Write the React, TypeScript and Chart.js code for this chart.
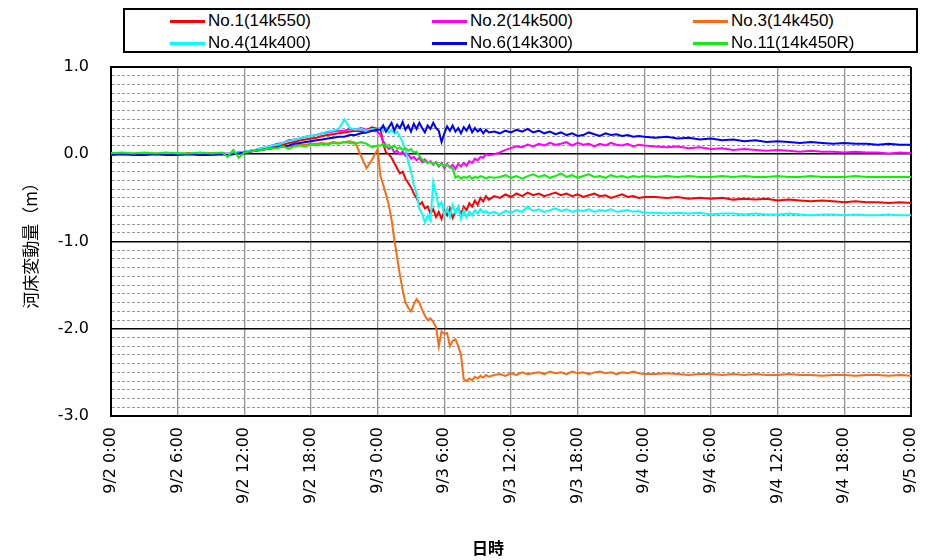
import { useEffect, useRef } from 'react';
import { Chart, registerables } from 'chart.js';

Chart.register(...registerables);

// elapsed hours from 9/2 0:00
const hours = [
  0, 1, 2, 3, 4, 5, 6, 7, 8, 9, 10,
  10.5, 11, 11.5, 12, 12.5, 13, 13.5, 14, 14.5, 15, 15.5, 16, 16.5, 17, 17.5, 18, 18.5, 19, 19.5, 20, 20.5, 21, 21.5, 22, 22.5, 23, 23.5, 24,
  24.25, 24.5, 24.75, 25, 25.25, 25.5, 25.75, 26, 26.25, 26.5, 26.75, 27, 27.25, 27.5, 27.75, 28, 28.25, 28.5, 28.75, 29,
  29.25, 29.5, 29.75, 30, 30.25, 30.5, 30.75, 31, 31.25, 31.5, 31.75, 32, 32.25, 32.5, 32.75, 33, 33.25, 33.5, 33.75, 34,
  34.5, 35, 35.5, 36, 36.5, 37, 37.5, 38, 38.5, 39, 39.5, 40, 40.5, 41, 41.5, 42, 42.5, 43, 43.5, 44, 44.5, 45, 45.5, 46, 46.5, 47, 47.5, 48,
  49, 50, 51, 52, 53, 54, 55, 56, 57, 58, 59, 60, 61, 62, 63, 64, 65, 66, 67, 68, 69, 70, 71, 72,
];

const no1 = [
  0.01, 0.01, 0.0, 0.01, 0.0, 0.01, 0.0, 0.01, 0.0, 0.01, 0.01,
  0.0, 0.01, 0.02, 0.02, 0.03, 0.04, 0.06, 0.07, 0.08, 0.1, 0.11, 0.13, 0.14, 0.16, 0.17, 0.18, 0.19, 0.21, 0.22, 0.23, 0.24, 0.25, 0.26, 0.27, 0.26, 0.28, 0.31, 0.29,
  0.3, 0.12, 0.02, 0.0, -0.04, -0.1, -0.16, -0.22, -0.2, -0.28, -0.33, -0.38, -0.45, -0.5, -0.58, -0.55, -0.62, -0.6, -0.68, -0.63,
  -0.72, -0.66, -0.74, -0.65, -0.7, -0.62, -0.73, -0.66, -0.61, -0.69, -0.6, -0.64, -0.56, -0.6, -0.53, -0.58, -0.5, -0.54, -0.48, -0.52,
  -0.48, -0.5, -0.46, -0.49, -0.45, -0.48, -0.44, -0.47, -0.45, -0.48, -0.46, -0.44, -0.47, -0.45, -0.48, -0.46, -0.49, -0.47, -0.45, -0.48, -0.47, -0.5, -0.48, -0.46, -0.49, -0.48, -0.5, -0.49,
  -0.49, -0.5, -0.49, -0.51, -0.5, -0.51, -0.5, -0.52, -0.51, -0.52, -0.51, -0.53, -0.52, -0.53, -0.54, -0.53, -0.54, -0.55, -0.54, -0.55, -0.55, -0.56, -0.55, -0.56,
];

const no2 = [
  0.01, 0.0, 0.01, 0.01, 0.0, 0.01, 0.0, 0.0, 0.01, 0.0, 0.01,
  0.01, 0.01, 0.02, 0.03, 0.04, 0.05, 0.07, 0.08, 0.1, 0.12, 0.13, 0.16, 0.17, 0.18, 0.2, 0.21, 0.22, 0.24, 0.25, 0.26, 0.27, 0.27, 0.29, 0.28, 0.3, 0.28, 0.27, 0.26,
  0.22, 0.15, 0.1, 0.06, 0.08, 0.02, 0.04, 0.0, 0.03, -0.02, 0.0, -0.05, -0.03, -0.07, -0.04, -0.09, -0.06, -0.1, -0.08, -0.12,
  -0.09, -0.14, -0.1, -0.16, -0.11, -0.15, -0.12, -0.17, -0.11, -0.14, -0.1, -0.13, -0.08, -0.1, -0.05, -0.07, -0.03, -0.04, 0.0, -0.01,
  0.0, 0.02, 0.05, 0.07, 0.09, 0.08, 0.11, 0.09, 0.12, 0.1, 0.13, 0.11, 0.12, 0.14, 0.1, 0.13, 0.11, 0.12, 0.09, 0.12, 0.1, 0.13, 0.11, 0.1, 0.12, 0.09, 0.11, 0.1,
  0.09, 0.08, 0.09, 0.07, 0.08, 0.06, 0.07, 0.05, 0.06, 0.05, 0.04, 0.05, 0.04, 0.03, 0.04, 0.03, 0.03, 0.02, 0.03, 0.02, 0.02, 0.01, 0.02, 0.01,
];

const no3 = [
  0.0, 0.01, 0.0, 0.0, 0.01, 0.0, 0.01, 0.0, 0.0, 0.01, 0.0,
  0.0, 0.01, 0.01, 0.02, 0.03, 0.04, 0.05, 0.06, 0.07, 0.08, 0.09, 0.09, 0.1, 0.11, 0.11, 0.12, 0.12, 0.13, 0.12, 0.14, 0.13, 0.14, 0.15, 0.13, -0.02, -0.16, -0.06, 0.06,
  -0.25, -0.35, -0.46, -0.58, -0.75, -0.98, -1.18, -1.38, -1.56, -1.7, -1.76, -1.8, -1.72, -1.66, -1.7, -1.78, -1.85, -1.9, -1.88, -1.92,
  -1.98, -2.2, -2.03, -2.06, -2.05, -2.2, -2.14, -2.12, -2.2, -2.3, -2.58, -2.6, -2.57, -2.59, -2.55, -2.57, -2.54, -2.56, -2.53, -2.55,
  -2.53, -2.52, -2.54, -2.51, -2.53, -2.5, -2.52, -2.51, -2.5, -2.52, -2.49, -2.51, -2.5, -2.52, -2.49, -2.51, -2.5, -2.52, -2.5, -2.49, -2.51, -2.5, -2.52, -2.5, -2.51, -2.49, -2.51, -2.52,
  -2.52, -2.51, -2.52, -2.53, -2.52, -2.52, -2.53, -2.52, -2.53, -2.52, -2.53, -2.53, -2.52, -2.53, -2.53, -2.54, -2.53, -2.53, -2.54, -2.53, -2.53, -2.54, -2.53, -2.54,
];

const no4 = [
  0.01, 0.0, 0.0, 0.01, 0.0, 0.0, 0.01, 0.0, 0.01, 0.0, 0.0,
  0.01, 0.01, 0.02, 0.03, 0.04, 0.05, 0.07, 0.08, 0.1, 0.11, 0.13, 0.15, 0.17, 0.18, 0.2, 0.21, 0.22, 0.24, 0.26, 0.27, 0.29, 0.4, 0.3, 0.28, 0.29, 0.27, 0.29, 0.28,
  0.3, 0.26, 0.3, 0.25, 0.28, 0.24, 0.26, 0.2, 0.14, 0.05, -0.08, -0.2, -0.35, -0.45, -0.62, -0.68, -0.78, -0.7, -0.76, -0.32,
  -0.45, -0.6, -0.55, -0.7, -0.62, -0.72, -0.58, -0.68, -0.6, -0.74, -0.64, -0.72, -0.66, -0.7, -0.64, -0.68, -0.63, -0.67, -0.65, -0.68,
  -0.66, -0.69, -0.65, -0.67, -0.64, -0.66, -0.6, -0.65, -0.63, -0.66, -0.64, -0.62, -0.65, -0.63, -0.66, -0.64, -0.65, -0.63, -0.66, -0.64, -0.65, -0.63, -0.66, -0.65, -0.64, -0.66, -0.65, -0.67,
  -0.67, -0.68, -0.67, -0.68, -0.67, -0.69, -0.68, -0.68, -0.69, -0.68, -0.69, -0.69, -0.68, -0.69, -0.7, -0.69, -0.69, -0.7, -0.69, -0.7, -0.7, -0.69, -0.7, -0.7,
];

const no6 = [
  -0.01, 0.0, -0.01, -0.01, 0.0, -0.01, -0.01, 0.0, -0.01, -0.01, 0.0,
  -0.01, 0.0, 0.01, 0.02, 0.03, 0.04, 0.05, 0.06, 0.07, 0.08, 0.09, 0.1, 0.12, 0.13, 0.14, 0.15, 0.16, 0.17, 0.18, 0.19, 0.2, 0.2, 0.22, 0.22, 0.24, 0.25, 0.27, 0.28,
  0.28, 0.33, 0.26, 0.31, 0.36, 0.27, 0.34, 0.3, 0.37, 0.28, 0.33, 0.26, 0.35, 0.29, 0.36, 0.3, 0.25, 0.33, 0.29, 0.36,
  0.3, 0.27, 0.14, 0.24, 0.32, 0.27, 0.33, 0.26, 0.3, 0.24, 0.31, 0.27, 0.33, 0.25, 0.3, 0.26, 0.29, 0.24, 0.28, 0.25,
  0.26, 0.24, 0.27, 0.25, 0.28, 0.26, 0.29, 0.25, 0.27, 0.24, 0.26, 0.23, 0.25, 0.22, 0.24, 0.21, 0.22, 0.25, 0.23, 0.21, 0.24, 0.22, 0.23, 0.21, 0.22, 0.2, 0.21, 0.2,
  0.19, 0.2, 0.18, 0.19, 0.17, 0.18, 0.16, 0.17, 0.15, 0.16, 0.14, 0.15, 0.14, 0.13, 0.14, 0.13, 0.12, 0.13, 0.12, 0.12, 0.11, 0.12, 0.11, 0.11,
];

const no11 = [
  0.01, 0.02, 0.01, 0.02, 0.01, 0.02, 0.01, 0.01, 0.02, 0.01, 0.02,
  -0.03, 0.05, -0.04, 0.02, 0.03, 0.04, 0.05, 0.06, 0.07, 0.07, 0.09, 0.06, 0.09, 0.1, 0.09, 0.11, 0.1, 0.12, 0.11, 0.13, 0.12, 0.14, 0.13, 0.12, 0.14, 0.12, 0.08, 0.1,
  0.1, 0.12, 0.08, 0.11, 0.07, 0.1, 0.06, 0.08, 0.05, 0.07, 0.04, 0.06, 0.02, 0.03, -0.02, -0.06, -0.08, -0.1, -0.09, -0.11,
  -0.1, -0.13, -0.11, -0.14, -0.12, -0.15, -0.16, -0.27, -0.25, -0.28, -0.26, -0.27, -0.25, -0.28, -0.26, -0.27, -0.25, -0.26, -0.28, -0.26,
  -0.27, -0.26, -0.24, -0.27, -0.25, -0.28, -0.25, -0.23, -0.26, -0.24, -0.27, -0.25, -0.22, -0.26, -0.24, -0.27, -0.25, -0.23, -0.26, -0.25, -0.27, -0.24, -0.26, -0.25, -0.27, -0.25, -0.26, -0.25,
  -0.26, -0.25, -0.26, -0.25, -0.26, -0.26, -0.25, -0.26, -0.25, -0.26, -0.26, -0.25, -0.26, -0.26, -0.25, -0.26, -0.26, -0.26, -0.25, -0.26, -0.26, -0.26, -0.26, -0.26,
];

const seriesNames = ['No.1(14k550)', 'No.2(14k500)', 'No.3(14k450)', 'No.4(14k400)', 'No.6(14k300)', 'No.11(14k450R)'];
const seriesValues = [no1, no2, no3, no4, no6, no11];
const seriesColors = ['#ff0000', '#ff00ff', '#ff6a10', '#00ffff', '#0000ff', '#10ee10'];

const xTickValues = [0, 6, 12, 18, 24, 30, 36, 42, 48, 54, 60, 66, 72];
const xTickLabels = ['9/2 0:00', '9/2 6:00', '9/2 12:00', '9/2 18:00', '9/3 0:00', '9/3 6:00', '9/3 12:00', '9/3 18:00', '9/4 0:00', '9/4 6:00', '9/4 12:00', '9/4 18:00', '9/5 0:00'];
const yTickValues = [1, 0, -1, -2, -3];
const yTickLabels = ['1.0', '0.0', '-1.0', '-2.0', '-3.0'];

const yTitle = '河床変動量（m）';
const xTitle = '日時';

const isMajorY = (v: number) => yTickValues.some((t) => Math.abs(t - v) < 1e-6);

export default function App() {
  const canvasRef = useRef<HTMLCanvasElement | null>(null);

  useEffect(() => {
    const canvas = canvasRef.current;
    if (!canvas) return;
    const datasets = seriesNames.map((name, si) => ({
      label: name,
      data: hours.map((h, i) => ({ x: h, y: seriesValues[si][i] })),
      borderColor: seriesColors[si],
      backgroundColor: seriesColors[si],
      borderWidth: 2,
      pointRadius: 0,
      tension: 0,
      fill: false,
      order: 6 - si,
    }));

    const chart = new Chart(canvas, {
      type: 'line',
      data: { datasets },
      options: {
        animation: false,
        responsive: false,
        devicePixelRatio: 1,
        layout: { padding: { top: 67, right: 18, left: 0, bottom: 0 } },
        plugins: { legend: { display: false }, tooltip: { enabled: false } },
        scales: {
          x: {
            type: 'linear',
            min: 0,
            max: 72,
            afterBuildTicks: (scale: any) => {
              scale.ticks = xTickValues.map((v) => ({ value: v }));
            },
            afterFit: (scale: any) => {
              scale.height = 144;
              scale.paddingLeft = 0;
              scale.paddingRight = 0;
            },
            ticks: {
              autoSkip: false,
              maxRotation: 90,
              minRotation: 90,
              padding: 11,
              color: '#000',
              font: { family: 'DejaVu Sans', size: 16 },
              callback: (value: any) => {
                const i = xTickValues.indexOf(Number(value));
                return i >= 0 ? xTickLabels[i] : '';
              },
            },
            grid: {
              drawTicks: false,
              color: (ctx: any) => {
                const v = ctx.tick ? ctx.tick.value : -1;
                return v === 72 || v === 0 ? '#000000' : '#929292';
              },
              lineWidth: (ctx: any) => {
                const v = ctx.tick ? ctx.tick.value : -1;
                return v === 72 || v === 0 ? 2 : 1.3;
              },
            },
            border: { display: true, color: '#000', width: 2 },
          },
          y: {
            type: 'linear',
            min: -3,
            max: 1,
            afterFit: (scale: any) => {
              scale.width = 111;
              scale.paddingTop = 0;
              scale.paddingBottom = 0;
            },
            ticks: {
              stepSize: 0.1,
              autoSkip: false,
              maxTicksLimit: 100,
              padding: 22,
              color: '#000',
              font: { family: 'DejaVu Sans', size: 16 },
              callback: (value: any) => {
                const i = yTickValues.findIndex((t) => Math.abs(t - Number(value)) < 1e-6);
                return i >= 0 ? yTickLabels[i] : '';
              },
            },
            title: {
              display: true,
              text: yTitle,
              color: '#000',
              font: { family: 'Noto Sans CJK JP', size: 17 },
              padding: { top: 20, bottom: 0 },
            },
            grid: {
              drawTicks: false,
              color: (ctx: any) => {
                if (!ctx.tick) return '#000';
                return isMajorY(ctx.tick.value) ? '#000000' : '#9a9a9a';
              },
              lineWidth: (ctx: any) => {
                if (!ctx.tick) return 1;
                const v = ctx.tick.value;
                if (Math.abs(v - 1) < 1e-6 || Math.abs(v + 3) < 1e-6) return 2;
                return isMajorY(v) ? 1.6 : 1;
              },
            },
            border: {
              display: true,
              color: '#000',
              width: 2,
              dash: (ctx: any) => {
                if (!ctx || !ctx.tick) return [];
                return isMajorY(ctx.tick.value) ? [] : [3, 2];
              },
            },
          },
        },
      },
    } as any);

    return () => {
      chart.destroy();
    };
  }, []);

  const colX = [45, 307, 568];
  const rowY = [8, 30];

  return (
    <div style={{ position: 'absolute', left: 0, top: 0, width: 929, height: 560, background: '#fff', overflow: 'hidden' }}>
      <canvas ref={canvasRef} width={929} height={560} style={{ position: 'absolute', left: 0, top: 0 }} />
      <div
        style={{
          position: 'absolute',
          left: 123,
          top: 8,
          width: 791,
          height: 41,
          border: '2px solid #000',
          background: '#fff',
        }}
      >
        {seriesNames.map((name, i) => (
          <div
            key={name}
            style={{
              position: 'absolute',
              left: colX[i % 3],
              top: rowY[Math.floor(i / 3)] - 8,
              height: 22,
              display: 'flex',
              alignItems: 'center',
              fontFamily: 'Liberation Sans',
              fontSize: 17,
              color: '#000',
              whiteSpace: 'nowrap',
            }}
          >
            <span style={{ display: 'inline-block', width: 35, height: 3, background: seriesColors[i], marginRight: 3 }} />
            <span>{name}</span>
          </div>
        ))}
      </div>
      <div
        style={{
          position: 'absolute',
          left: 488 - 40,
          top: 536,
          width: 80,
          textAlign: 'center',
          fontFamily: 'Noto Sans CJK JP',
          fontWeight: 'bold',
          fontSize: 16,
          lineHeight: '22px',
          color: '#000',
        }}
      >
        {xTitle}
      </div>
    </div>
  );
}
